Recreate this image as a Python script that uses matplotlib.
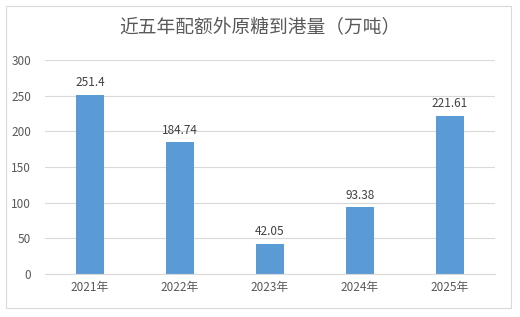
import matplotlib.pyplot as plt
from matplotlib.patches import Rectangle

plt.rcParams['font.family'] = ['Noto Sans CJK SC', 'DejaVu Sans']

anos = ['2021年', '2022年', '2023年', '2024年', '2025年']
volumes = [251.4, 184.74, 42.05, 93.38, 221.61]
rotulos = ['251.4', '184.74', '42.05', '93.38', '221.61']
titulo = '近五年配额外原糖到港量（万吨）'

fig = plt.figure(figsize=(5.2, 3.17), dpi=100)
fig.patches.append(Rectangle((6 / 520, 1 - 308 / 317), 505 / 520, 302 / 317,
                             transform=fig.transFigure, fill=False,
                             edgecolor='#d9d9d9', linewidth=0.8))

ax = fig.add_axes([45 / 520, 43 / 317, 450 / 520, 214 / 317])
x = range(len(anos))
barras = ax.bar(x, volumes, width=0.31, color='#5b9bd5', zorder=2)
for b, r in zip(barras, rotulos):
    ax.text(b.get_x() + b.get_width() / 2, b.get_height() + 8, r,
            ha='center', va='bottom', fontsize=8.5, color='#404040')

ax.set_xlim(-0.5, len(anos) - 0.5)
ax.set_ylim(0, 300)
ax.set_yticks(range(0, 301, 50))
ax.set_xticks(list(x))
ax.set_xticklabels(anos)
ax.grid(axis='y', color='#d9d9d9', linewidth=0.8, zorder=0)
for s in ['top', 'right', 'left']:
    ax.spines[s].set_visible(False)
ax.spines['bottom'].set_color('#d9d9d9')
ax.tick_params(length=0, labelsize=8.5, labelcolor='#595959')
ax.tick_params(axis='y', pad=10)
ax.tick_params(axis='x', pad=5)

fig.text(0.5, 1 - 28 / 317, titulo, ha='center', va='center',
         fontsize=13.5, color='#595959')

fig.savefig('out.png', dpi=100)
